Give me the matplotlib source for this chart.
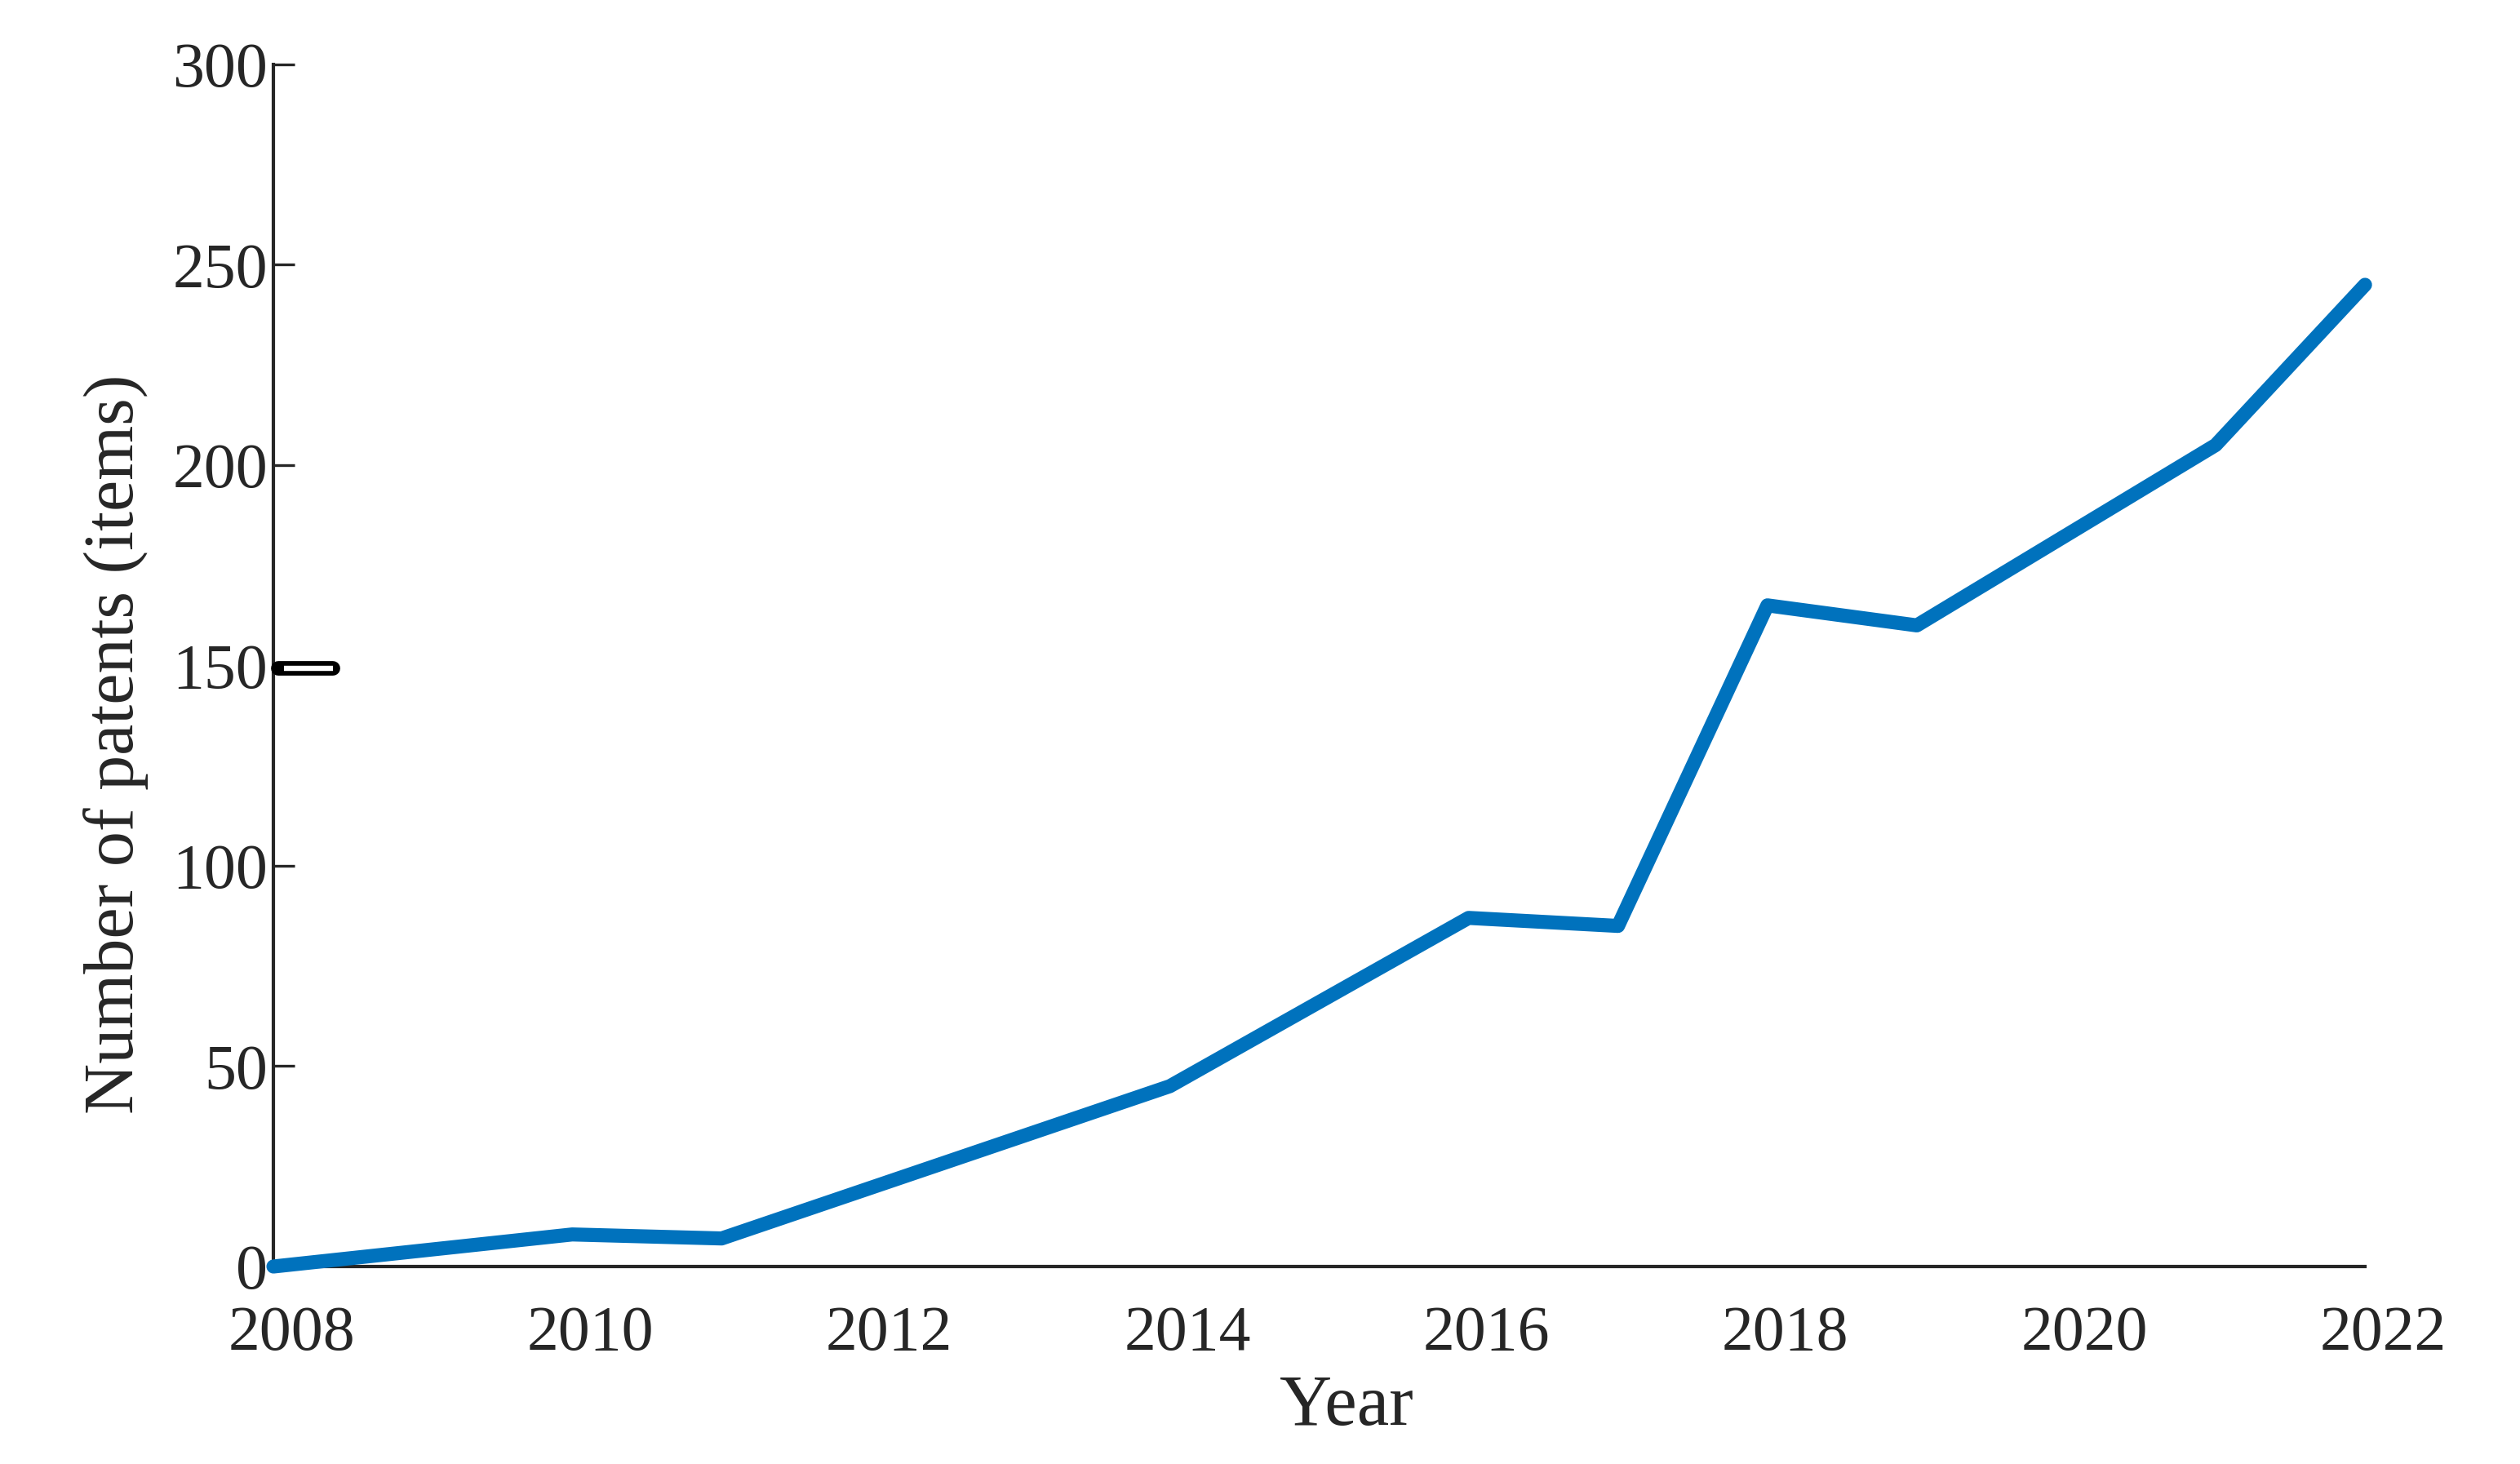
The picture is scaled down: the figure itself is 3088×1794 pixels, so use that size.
import matplotlib
matplotlib.use('Agg')
import matplotlib.pyplot as plt
from matplotlib.transforms import ScaledTranslation

years = [2008, 2010, 2011, 2014, 2016, 2017, 2018, 2019, 2021, 2022]
patents = [0, 8, 7, 45, 87, 85, 165, 160, 205, 245]
xticks = list(range(2008, 2023, 2))
yticks = [0, 50, 100, 150, 200, 250, 300]

plt.rcParams['font.family'] = ['Liberation Serif', 'DejaVu Serif']
ink = '#262626'

fig = plt.figure(figsize=(15.44, 8.97), dpi=200)
ax = fig.add_axes([0.1085, 0.1349, 0.9385 - 0.1085, 0.956 - 0.1349])

ax.plot(years, patents, color='#0072BD', lw=6.2, solid_capstyle='round',
        solid_joinstyle='round', zorder=3, clip_on=False)

# small hollow mark next to the 150 tick
ax.plot([2008.03, 2008.40], [149.2, 149.2], color='black', lw=6.4,
        solid_capstyle='round', zorder=4, clip_on=False)
ax.plot([2008.07, 2008.40], [149.2, 149.2], color='white', lw=2.3,
        solid_capstyle='butt', zorder=5, clip_on=False)

ax.set_xlim(2008, 2022)
ax.set_ylim(0, 300)
ax.set_xticks(xticks)
ax.set_yticks(yticks)

for s in ['top', 'right']:
    ax.spines[s].set_visible(False)
for s in ['left', 'bottom']:
    ax.spines[s].set_linewidth(1.5)
    ax.spines[s].set_color(ink)

ax.tick_params(axis='y', direction='in', length=9.5, width=1.2, color=ink,
               labelsize=28, labelcolor=ink, pad=2.5)
ax.tick_params(axis='x', length=0, labelsize=28, labelcolor=ink, pad=17)

for lab in ax.get_xticklabels():
    lab.set_transform(lab.get_transform() + ScaledTranslation(22 / 200, 0, fig.dpi_scale_trans))

ax.set_xlabel('Year', fontsize=32, color=ink, va='center')
ax.xaxis.set_label_coords(0.513, -0.117)
ax.set_ylabel('Number of patents (items)', fontsize=31, color=ink, va='center')
ax.yaxis.set_label_coords(-0.0753, 0.4345)

fig.savefig('out.png', dpi=200)
